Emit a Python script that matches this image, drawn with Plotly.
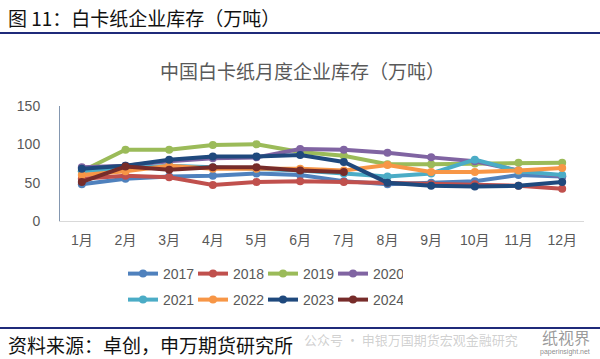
import plotly.graph_objects as go

months = ["1月", "2月", "3月", "4月", "5月", "6月", "7月", "8月", "9月", "10月", "11月", "12月"]

y2017 = [48, 55, 58, 59, 62, 60, 52, 48, 50, 52, 60, 58]
y2018 = [55, 59, 57, 47, 51, 52, 51, 50, 48, 48, 46, 42]
y2019 = [65, 93, 93, 99, 100, 90, 85, 74, 74, 75, 76, 76]
y2020 = [70, 72, 78, 82, 83, 94, 93, 89, 83, 78, 66, 58]
y2021 = [65, 68, 72, 70, 68, 66, 62, 58, 62, 80, 65, 60]
y2022 = [60, 65, 72, 68, 68, 68, 66, 73, 64, 64, 66, 69]
y2023 = [68, 72, 80, 84, 84, 86, 77, 50, 46, 45, 46, 51]
y2024 = [51, 71, 67, 70, 70, 66, 64]

series = [
    ("2017", y2017, "#4F81BD", "legend"),
    ("2018", y2018, "#C0504D", "legend"),
    ("2019", y2019, "#9BBB59", "legend"),
    ("2020", y2020, "#8064A2", "legend"),
    ("2021", y2021, "#4BACC6", "legend2"),
    ("2022", y2022, "#F79646", "legend2"),
    ("2023", y2023, "#1F497D", "legend2"),
    ("2024", y2024, "#772C2A", "legend2"),
]

FONT = "Liberation Sans, Noto Sans CJK SC, sans-serif"
CJK = "Noto Sans CJK SC, sans-serif"

fig = go.Figure()
for name, vals, color, leg in series:
    fig.add_trace(go.Scatter(
        x=months[:len(vals)], y=vals, name=name, mode="lines+markers",
        line=dict(color=color, width=4),
        marker=dict(color=color, size=8),
        legend=leg,
    ))

# pixel -> paper helpers (plot area: x 60..584, y 106..221)
L, R, T, B = 60, 584, 106, 221
def px(x):
    return (x - L) / (R - L)
def py(y):
    return (B - y) / (B - T)

legend_common = dict(
    orientation="h", xanchor="left", yanchor="middle",
    entrywidth=25, entrywidthmode="pixels", itemwidth=30,
    font=dict(size=14, color="#595959"), bgcolor="rgba(0,0,0,0)",
    tracegroupgap=0,
)

fig.update_layout(
    width=600, height=359,
    margin=dict(l=L, r=600 - R, t=T, b=359 - B),
    paper_bgcolor="white", plot_bgcolor="white",
    font=dict(family=FONT, color="#595959", size=14),
    showlegend=True,
    xaxis=dict(
        type="category", range=[-0.5, 11.5],
        showline=True, linecolor="#D9D9D9", linewidth=1,
        ticks="", showgrid=False, ticklabelstandoff=6,
        tickfont=dict(size=14, color="#595959"),
    ),
    yaxis=dict(
        range=[0, 150], tickvals=[0, 50, 100, 150],
        showline=True, linecolor="#8497B0", linewidth=1,
        ticks="", showgrid=False, zeroline=False, ticklabelstandoff=16,
        tickfont=dict(size=14, color="#595959"),
    ),
    legend=dict(x=px(123), y=py(274), **legend_common),
    legend2=dict(x=px(123), y=py(300), **legend_common),
    shapes=[
        dict(type="line", xref="paper", yref="paper", x0=px(0), x1=px(600),
             y0=py(33), y1=py(33), line=dict(color="#1F2A7A", width=2)),
        dict(type="line", xref="paper", yref="paper", x0=px(0), x1=px(600),
             y0=py(328), y1=py(328), line=dict(color="#1F2A7A", width=2)),
    ],
    annotations=[
        dict(text="图 11：白卡纸企业库存（万吨）", xref="paper", yref="paper",
             x=px(6), y=py(17), xanchor="left", yanchor="middle", showarrow=False,
             font=dict(size=19, color="#111111", family=CJK)),
        dict(text="中国白卡纸月度企业库存（万吨）", xref="paper", yref="paper",
             x=px(302), y=py(70), xanchor="center", yanchor="middle", showarrow=False,
             font=dict(size=19, color="#595959", family=CJK)),
        dict(text="资料来源：卓创，申万期货研究所", xref="paper", yref="paper",
             x=px(6), y=py(344), xanchor="left", yanchor="middle", showarrow=False,
             font=dict(size=19, color="#111111", family=CJK)),
        dict(text="公众号 · 申银万国期货宏观金融研究", xref="paper", yref="paper",
             x=px(302), y=py(339), xanchor="left", yanchor="middle", showarrow=False,
             font=dict(size=13, color="rgba(150,150,150,0.45)", family=CJK)),
        dict(text="纸视界", xref="paper", yref="paper",
             x=px(592), y=py(337), xanchor="right", yanchor="middle", showarrow=False,
             font=dict(size=16, color="rgba(110,110,110,0.7)", family=CJK)),
        dict(text="paperinsight.net", xref="paper", yref="paper",
             x=px(592), y=py(352), xanchor="right", yanchor="middle", showarrow=False,
             font=dict(size=7, color="rgba(110,110,110,0.8)", family=FONT)),
    ],
)

fig.write_html("out.html", config={"displayModeBar": False},
               post_script="document.body.style.margin='0';")
